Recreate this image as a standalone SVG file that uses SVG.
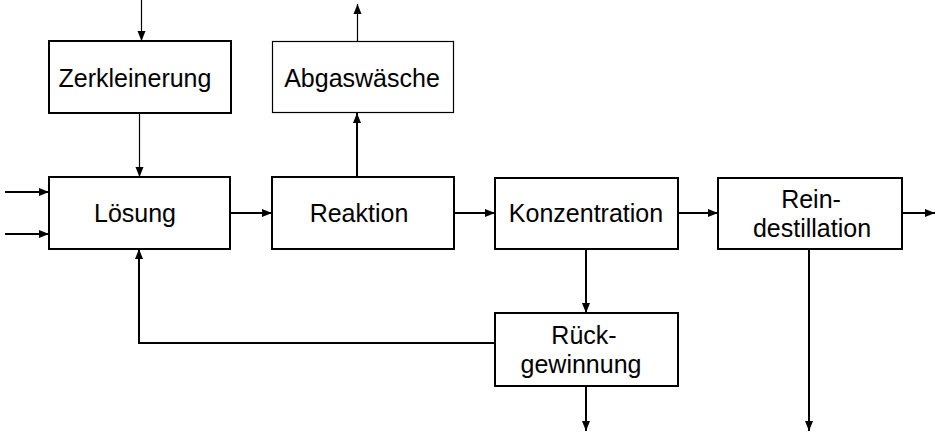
<svg xmlns="http://www.w3.org/2000/svg" width="935" height="433" viewBox="0 0 935 433">
<style>
.box{fill:#fff;stroke:#000;stroke-width:2}
.thin{fill:#fff;stroke:#000;stroke-width:1.2}
.c{fill:none;stroke:#000;stroke-width:2}
.ct{fill:none;stroke:#000;stroke-width:1.2}
text{font-family:"Liberation Sans",Arial,sans-serif;font-size:25px;fill:#000;text-anchor:middle}
</style>
<defs>
<marker id="a" markerUnits="userSpaceOnUse" markerWidth="10" markerHeight="10" viewBox="0 0 10 10" refX="10" refY="5" orient="auto">
<path d="M0,1 L10,5 L0,9 Z" fill="#000"/>
</marker>
</defs>
<rect width="935" height="433" fill="#fff"/>
<g id="connectors">
<line class="ct" x1="141.5" y1="0" x2="141.5" y2="41" marker-end="url(#a)"/>
<line class="ct" x1="139.5" y1="113" x2="139.5" y2="177" marker-end="url(#a)"/>
<line class="ct" x1="357.5" y1="41" x2="357.5" y2="4" marker-end="url(#a)"/>
<line class="c" x1="357" y1="177" x2="357" y2="113" marker-end="url(#a)"/>
<line class="c" x1="5" y1="192" x2="49" y2="192" marker-end="url(#a)"/>
<line class="c" x1="5" y1="234" x2="49" y2="234" marker-end="url(#a)"/>
<line class="c" x1="230" y1="213" x2="272" y2="213" marker-end="url(#a)"/>
<line class="c" x1="454" y1="213" x2="495" y2="213" marker-end="url(#a)"/>
<line class="c" x1="678" y1="213" x2="718" y2="213" marker-end="url(#a)"/>
<line class="c" x1="902" y1="213" x2="935" y2="213" marker-end="url(#a)"/>
<line class="c" x1="586" y1="249" x2="586" y2="313" marker-end="url(#a)"/>
<line class="c" x1="586" y1="386" x2="586" y2="431" marker-end="url(#a)"/>
<line class="c" x1="809" y1="249" x2="809" y2="431" marker-end="url(#a)"/>
<polyline class="c" points="495,343 139,343 139,249" marker-end="url(#a)"/>
</g>
<g id="zerkleinerung"><rect class="box" x="49" y="41" width="182" height="72"/><text x="135" y="87">Zerkleinerung</text></g>
<g id="abgaswaesche"><rect class="thin" x="272.5" y="41.5" width="181" height="71"/><text x="362" y="87">Abgaswäsche</text></g>
<g id="loesung"><rect class="box" x="49" y="177" width="181" height="72"/><text x="135" y="222">Lösung</text></g>
<g id="reaktion"><rect class="box" x="272" y="177" width="182" height="72"/><text x="359" y="222">Reaktion</text></g>
<g id="konzentration"><rect class="box" x="495" y="178" width="183" height="71"/><text x="586" y="222">Konzentration</text></g>
<g id="reindestillation"><rect class="box" x="718" y="178" width="184" height="71"/><text x="811" y="208">Rein-</text><text x="812" y="237">destillation</text></g>
<g id="rueckgewinnung"><rect class="box" x="495" y="313" width="183" height="73"/><text x="584" y="344">Rück-</text><text x="581" y="373">gewinnung</text></g>
</svg>
